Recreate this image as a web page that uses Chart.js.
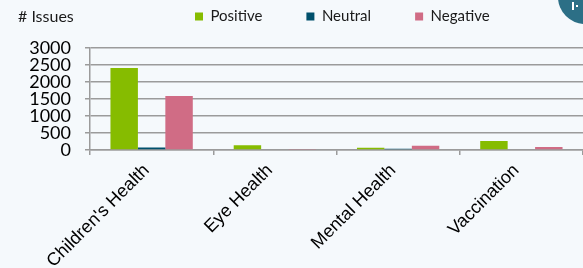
<!DOCTYPE html>
<html><head><meta charset="utf-8">
<script src="https://cdn.jsdelivr.net/npm/chart.js@4.4.1/dist/chart.umd.min.js"></script>
<style>html,body{margin:0;padding:0;background:#f5f9fc;overflow:hidden;} #wrap{width:583px;height:268px;position:relative;}</style>
</head><body><div id="wrap"><canvas id="c" width="583" height="268"></canvas></div>
<script>
const categories = ["Children's Health", "Eye Health", "Mental Health", "Vaccination"];
const positive = [2420, 138, 68, 265];
const neutral = [75, 0, 40, 0];
const negative = [1590, 15, 126, 88];
const seriesNames = ['Positive', 'Neutral', 'Negative'];
const yTicks = [0, 500, 1000, 1500, 2000, 2500, 3000];
const titleText = '# Issues';

const GRID = '#9b9b9b';
const LEG_PAD = 44;

const legendMover = {
  id: 'legendMover',
  afterLayout(chart) {
    const lg = chart.legend;
    if (lg) { lg.left = 195 - LEG_PAD; lg.right = chart.width; lg.top = 9 - LEG_PAD; }
  }
};
const decor = {
  id: 'decor',
  beforeDraw(chart) {
    const ctx = chart.ctx;
    ctx.save();
    ctx.fillStyle = '#f5f9fc';
    ctx.fillRect(0, 0, chart.width, chart.height);
    ctx.restore();
  },
  afterDraw(chart) {
    const ctx = chart.ctx;
    ctx.save();
    ctx.fillStyle = '#2c6f86';
    ctx.beginPath();
    ctx.arc(585, -3, 27, 0, Math.PI * 2);
    ctx.fill();
    ctx.fillStyle = '#ffffff';
    ctx.fillRect(572, 2, 2, 8);
    ctx.fillRect(576, 5, 2, 2);
    ctx.restore();
  }
};

new Chart(document.getElementById('c'), {
  type: 'bar',
  data: {
    labels: categories,
    datasets: [
      { label: seriesNames[0], data: positive, backgroundColor: '#86bc00' },
      { label: seriesNames[1], data: neutral, backgroundColor: '#00506c' },
      { label: seriesNames[2], data: negative, backgroundColor: '#d06c85' }
    ]
  },
  options: {
    responsive: false,
    animation: false,
    devicePixelRatio: 1,
    layout: { padding: { left: 18, right: 0, top: 0, bottom: 0 } },
    datasets: { bar: { barPercentage: 1, categoryPercentage: 0.668, borderWidth: 0 } },
    plugins: {
      tooltip: { enabled: false },
      title: {
        display: true, text: titleText, align: 'start', color: '#1a1a1a',
        font: { family: 'Lato', size: 16, weight: 'normal' },
        padding: { top: 7, bottom: 0 }
      },
      legend: {
        display: true, position: 'top', align: 'start', maxHeight: 22,
        labels: {
          boxWidth: 8, boxHeight: 8, padding: LEG_PAD, color: '#1a1a1a',
          font: { family: 'Lato', size: 15 }
        }
      }
    },
    scales: {
      x: {
        afterFit(s) { s.height = 118; },
        grid: { display: true, drawOnChartArea: false, drawTicks: true, tickLength: 5, color: GRID, lineWidth: 1.5, offset: true },
        border: { display: true, color: GRID, width: 1.5 },
        ticks: {
          color: '#000', maxRotation: 45, minRotation: 45, autoSkip: false,
          padding: 5, labelOffset: -5,
          font: { family: 'Liberation Sans', size: 18 }
        }
      },
      y: {
        min: 0, max: 3000,
        afterFit(s) { s.width = 72; },
        afterBuildTicks(s) { s.ticks = yTicks.map(v => ({ value: v })); },
        grid: { color: GRID, lineWidth: 1.5, tickLength: 5, drawTicks: true },
        border: { display: true, color: GRID, width: 1.5 },
        ticks: {
          color: '#000', padding: 14, autoSkip: false,
          font: { family: 'Lato', size: 18 },
          callback: (v) => String(v)
        }
      }
    }
  },
  plugins: [legendMover, decor]
});
</script></body></html>
